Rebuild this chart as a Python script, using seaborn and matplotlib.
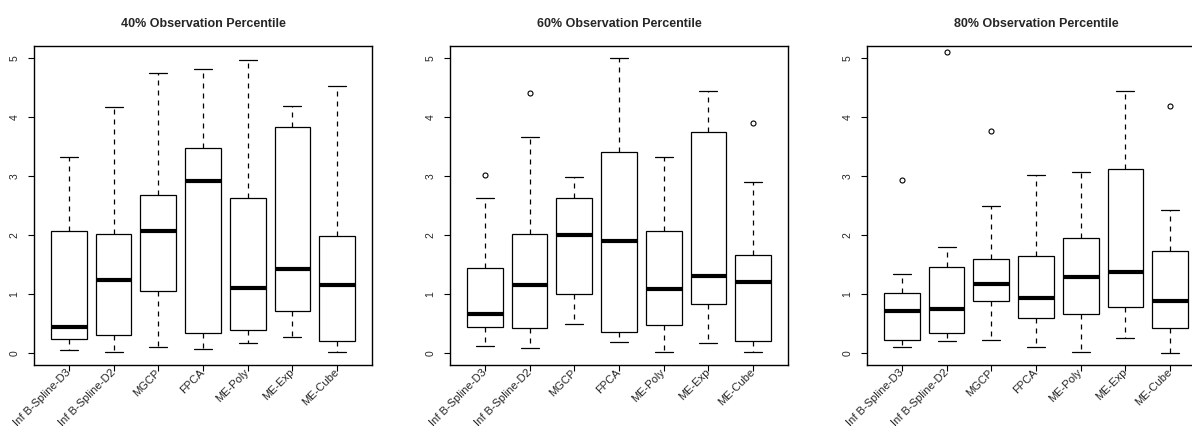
import numpy as np
import pandas as pd
import matplotlib
matplotlib.use("Agg")
import matplotlib.pyplot as plt
import seaborn as sns

methods = ["Inf B-Spline-D3", "Inf B-Spline-D2", "MGCP", "FPCA", "ME-Poly", "ME-Exp", "ME-Cube"]
titles = ["40% Observation Percentile", "60% Observation Percentile", "80% Observation Percentile"]

# 40% panel: lower whisker, Q1, median, Q3, upper whisker, outlier
p40_low = [0.06, 0.02, 0.11, 0.07, 0.18, 0.28, 0.02]
p40_q1 = [0.24, 0.31, 1.06, 0.34, 0.40, 0.72, 0.20]
p40_med = [0.45, 1.24, 2.07, 2.92, 1.10, 1.42, 1.15]
p40_q3 = [2.07, 2.02, 2.69, 3.48, 2.64, 3.83, 1.99]
p40_high = [3.33, 4.18, 4.76, 4.82, 4.98, 4.19, 4.53]
p40_out = [None, None, None, None, None, None, None]

# 60% panel
p60_low = [0.12, 0.08, 0.50, 0.19, 0.02, 0.18, 0.02]
p60_q1 = [0.45, 0.42, 1.01, 0.36, 0.48, 0.84, 0.20]
p60_med = [0.67, 1.15, 2.00, 1.91, 1.09, 1.31, 1.21]
p60_q3 = [1.45, 2.02, 2.63, 3.41, 2.08, 3.75, 1.66]
p60_high = [2.64, 3.66, 2.99, 5.00, 3.33, 4.45, 2.91]
p60_out = [3.02, 4.42, None, None, None, None, 3.91]

# 80% panel
p80_low = [0.10, 0.20, 0.23, 0.10, 0.02, 0.25, 0.00]
p80_q1 = [0.22, 0.34, 0.88, 0.59, 0.66, 0.79, 0.42]
p80_med = [0.72, 0.75, 1.17, 0.93, 1.30, 1.38, 0.88]
p80_q3 = [1.02, 1.46, 1.59, 1.65, 1.96, 3.13, 1.73]
p80_high = [1.34, 1.80, 2.50, 3.03, 3.07, 4.44, 2.43]
p80_out = [2.93, 5.10, 3.76, None, None, None, 4.19]

panels = [
    (p40_low, p40_q1, p40_med, p40_q3, p40_high, p40_out, 1.5),
    (p60_low, p60_q1, p60_med, p60_q3, p60_high, p60_out, 1.4),
    (p80_low, p80_q1, p80_med, p80_q3, p80_high, p80_out, 1.5),
]


def build_frame(low, q1, med, q3, high, out):
    rows = []
    for i, m in enumerate(methods):
        last = out[i] if out[i] is not None else high[i]
        vals = [low[i], low[i], q1[i], q1[i], med[i], q3[i], q3[i], high[i], last]
        for v in vals:
            rows.append((m, v))
    return pd.DataFrame(rows, columns=["method", "value"])


sns.set_style("white")
plt.rcParams["font.family"] = ["Liberation Sans", "DejaVu Sans"]

fig = plt.figure(figsize=(11.92, 4.26), dpi=100)
W, H = 1192.0, 426.0
lefts = [34, 450, 867]
ax_w, ax_top, ax_bot = 338, 46, 365

for k, (low, q1, med, q3, high, out, whis) in enumerate(panels):
    ax = fig.add_axes([lefts[k] / W, (H - ax_bot) / H, ax_w / W, (ax_bot - ax_top) / H])
    df = build_frame(low, q1, med, q3, high, out)
    sns.boxplot(
        data=df, x="method", y="value", order=methods, ax=ax,
        whis=whis, width=0.8, color="white", linecolor="black", linewidth=0.9,
        medianprops=dict(color="black", linewidth=3, solid_capstyle="butt"),
        whiskerprops=dict(color="black", linewidth=0.9, linestyle=(0, (4, 4))),
        capprops=dict(color="black", linewidth=0.9),
        boxprops=dict(facecolor="white", edgecolor="black", linewidth=0.9),
        flierprops=dict(marker="o", markersize=3.6, markerfacecolor="none",
                        markeredgecolor="black", markeredgewidth=0.8),
    )
    ax.set_xlim(-0.78, 6.78)
    ax.set_ylim(-0.2, 5.21)
    ax.set_xlabel("")
    ax.set_ylabel("")
    ax.set_yticks([0, 1, 2, 3, 4, 5])
    ax.set_yticklabels(["0", "1", "2", "3", "4", "5"], rotation=90, va="center", fontsize=7.5)
    ax.set_xticks(range(len(methods)))
    ax.set_xticklabels(methods, rotation=45, ha="right", va="center",
                       rotation_mode="anchor", fontsize=8)
    ax.tick_params(axis="both", direction="out", length=4.3, width=0.8, color="black",
                   bottom=True, left=True)
    ax.tick_params(axis="y", pad=6)
    ax.tick_params(axis="x", pad=0)
    for sp in ax.spines.values():
        sp.set_visible(True)
        sp.set_color("black")
        sp.set_linewidth(1.0)
    ax.set_title(titles[k], fontsize=9, fontweight="bold", pad=14)

fig.savefig("out.png", dpi=100)
